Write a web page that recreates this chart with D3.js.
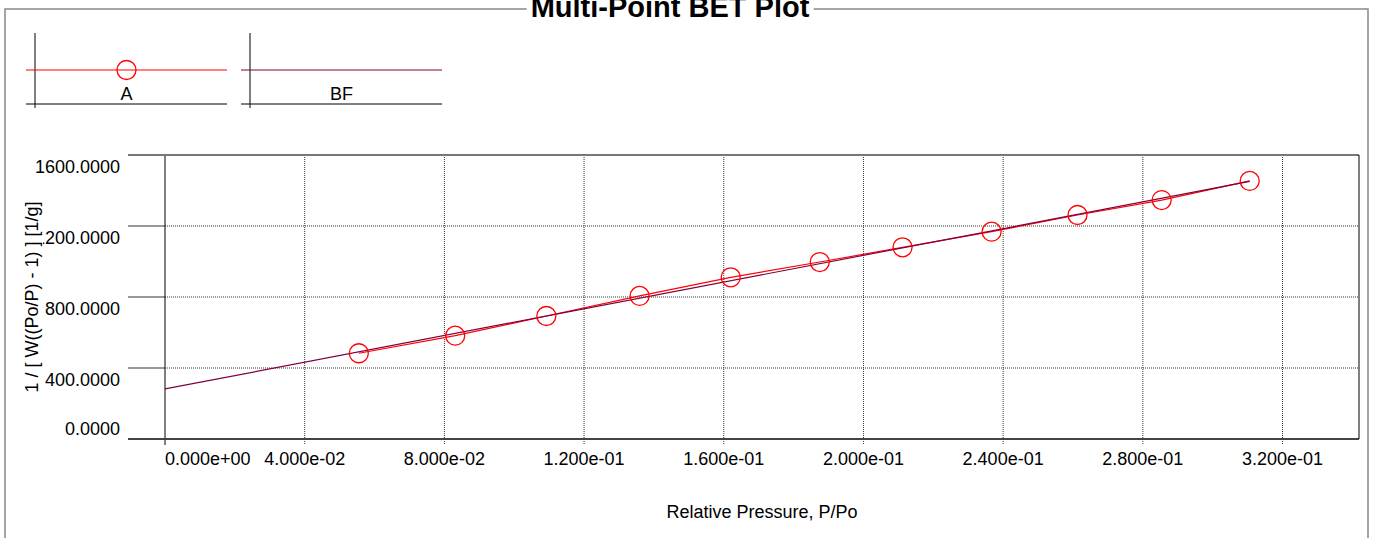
<!DOCTYPE html>
<html>
<head>
<meta charset="utf-8">
<script src="https://cdn.jsdelivr.net/npm/d3@7"></script>
<style>
  body { margin: 0; background: #fff; }
  svg { display: block; font-family: "Liberation Sans", Arial, sans-serif; }
</style>
</head>
<body>
<div id="vis"></div>
<script>
// measured points (series A) and the BET fit line (BF)
const pressures = [0.0555, 0.0831, 0.1092, 0.1359, 0.1620, 0.1875, 0.2112, 0.2367, 0.2613, 0.2854, 0.3106];
const betValues = [483, 582, 693, 806, 911, 997, 1080, 1168, 1262, 1346, 1454];
const fitX = [0, 0.3106];
const fitY = [282, 1451];
const xTicks = [0, 0.04, 0.08, 0.12, 0.16, 0.20, 0.24, 0.28, 0.32];
const yTicks = [0, 400, 800, 1200, 1600];
const legendNames = ["A", "BF"];

const CONFIG = {
    colors: { a: "#ff0000", bf: "#800040", grid: "#333", frame: "#888" },
    w: 1378,
    h: 538,
    plot: { left: 165, right: 1359, top: 155, bottom: 439 }
};
const P = CONFIG.plot;

const svg = d3.select("#vis").append("svg")
    .attr("width", CONFIG.w)
    .attr("height", CONFIG.h);

const xScale = d3.scaleLinear().domain([0, 0.3419]).range([P.left, P.right]);
const yScale = d3.scaleLinear().domain([0, 1600]).range([P.bottom, P.top]);

const expFmt = v => {
    const [m, e] = v.toExponential(3).split("e");
    const sign = e[0] === "-" ? "-" : "+";
    const digits = e.replace(/[+-]/, "").padStart(2, "0");
    return `${m}e${sign}${digits}`;
};
const yFmt = d3.format(".4f");

// outer frame
svg.append("path")
    .attr("d", `M5,${CONFIG.h} V9 H1368 V${CONFIG.h}`)
    .attr("fill", "none")
    .attr("stroke", CONFIG.colors.frame)
    .attr("stroke-width", 1.5);

// title with white gap over frame line
const title = svg.append("text")
    .attr("x", 670)
    .attr("y", 17)
    .attr("text-anchor", "middle")
    .style("font-size", "29px")
    .style("font-weight", "bold")
    .text("Multi-Point BET Plot");
const tb = title.node().getBBox();
svg.insert("rect", "text")
    .attr("x", tb.x - 4).attr("y", 0)
    .attr("width", tb.width + 8).attr("height", 14)
    .attr("fill", "#fff");

// legend
const legendBoxes = [
    { name: legendNames[0], x0: 26, x1: 227, vx: 35, color: CONFIG.colors.a, marker: true },
    { name: legendNames[1], x0: 241, x1: 442, vx: 250, color: CONFIG.colors.bf, marker: false }
];
legendBoxes.forEach(b => {
    const g = svg.append("g");
    g.append("line").attr("x1", b.vx).attr("x2", b.vx).attr("y1", 33).attr("y2", 108)
        .attr("stroke", "#000");
    g.append("line").attr("x1", b.x0).attr("x2", b.x1).attr("y1", 104).attr("y2", 104)
        .attr("stroke", "#000");
    g.append("line").attr("x1", b.x0).attr("x2", b.x1).attr("y1", 70).attr("y2", 70)
        .attr("stroke", b.color).attr("stroke-width", 1.2);
    const cx = (b.x0 + b.x1) / 2;
    if (b.marker) {
        g.append("circle").attr("cx", cx).attr("cy", 70).attr("r", 9.5)
            .attr("fill", "none").attr("stroke", b.color).attr("stroke-width", 1.3);
    }
    g.append("text").attr("x", cx).attr("y", 100).attr("text-anchor", "middle")
        .style("font-size", "18px").text(b.name);
});

// horizontal grid + ticks
yTicks.forEach(t => {
    const y = yScale(t);
    svg.append("line").attr("x1", 128).attr("x2", P.left).attr("y1", y).attr("y2", y)
        .attr("stroke", CONFIG.colors.grid);
    if (t !== 0 && t !== 1600) {
        svg.append("line").attr("x1", P.left).attr("x2", P.right).attr("y1", y).attr("y2", y)
            .attr("stroke", CONFIG.colors.grid).attr("stroke-dasharray", "1,1");
    }
    svg.append("text")
        .attr("x", 120)
        .attr("y", t === 0 ? y - 4 : y + 18)
        .attr("text-anchor", "end")
        .style("font-size", "18px")
        .text(yFmt(t));
});

// vertical grid + ticks
xTicks.forEach((t, i) => {
    const x = xScale(t);
    svg.append("line").attr("x1", x).attr("x2", x).attr("y1", P.top).attr("y2", P.bottom + 6)
        .attr("stroke", i === 0 ? "#000" : CONFIG.colors.grid)
        .attr("stroke-dasharray", i === 0 ? null : "1,1");
    svg.append("text")
        .attr("x", x)
        .attr("y", 465)
        .attr("text-anchor", i === 0 ? "start" : "middle")
        .style("font-size", "18px")
        .text(expFmt(t));
});

// plot border
svg.append("line").attr("x1", 128).attr("x2", P.right).attr("y1", P.top).attr("y2", P.top)
    .attr("stroke", "#777").attr("stroke-width", 2);
svg.append("line").attr("x1", 128).attr("x2", P.right).attr("y1", P.bottom).attr("y2", P.bottom)
    .attr("stroke", "#444").attr("stroke-width", 2);
svg.append("line").attr("x1", P.right).attr("x2", P.right).attr("y1", P.top).attr("y2", P.bottom)
    .attr("stroke", "#000");

// axis titles
svg.append("text")
    .attr("x", (P.left + P.right) / 2)
    .attr("y", 518)
    .attr("text-anchor", "middle")
    .style("font-size", "18px")
    .text("Relative Pressure, P/Po");

svg.append("rect")
    .attr("x", 21).attr("y", 199).attr("width", 22).attr("height", 195)
    .attr("fill", "#fff");
svg.append("text")
    .attr("transform", `translate(38,${(P.top + P.bottom) / 2}) rotate(-90)`)
    .attr("text-anchor", "middle")
    .style("font-size", "18px")
    .text("1 / [ W((Po/P) - 1) ] [1/g]");

// series
const line = d3.line().x(d => xScale(d[0])).y(d => yScale(d[1]));
const pts = pressures.map((p, i) => [p, betValues[i]]);

svg.append("path")
    .datum(pts)
    .attr("d", line)
    .attr("fill", "none")
    .attr("stroke", CONFIG.colors.a)
    .attr("stroke-width", 1.2);

svg.append("path")
    .datum(fitX.map((x, i) => [x, fitY[i]]))
    .attr("d", line)
    .attr("fill", "none")
    .attr("stroke", CONFIG.colors.bf)
    .attr("stroke-width", 1.2);

svg.selectAll(".pt")
    .data(pts)
    .join("circle")
    .attr("class", "pt")
    .attr("cx", d => xScale(d[0]))
    .attr("cy", d => yScale(d[1]))
    .attr("r", 9.5)
    .attr("fill", "none")
    .attr("stroke", CONFIG.colors.a)
    .attr("stroke-width", 1.3);
</script>
</body>
</html>
